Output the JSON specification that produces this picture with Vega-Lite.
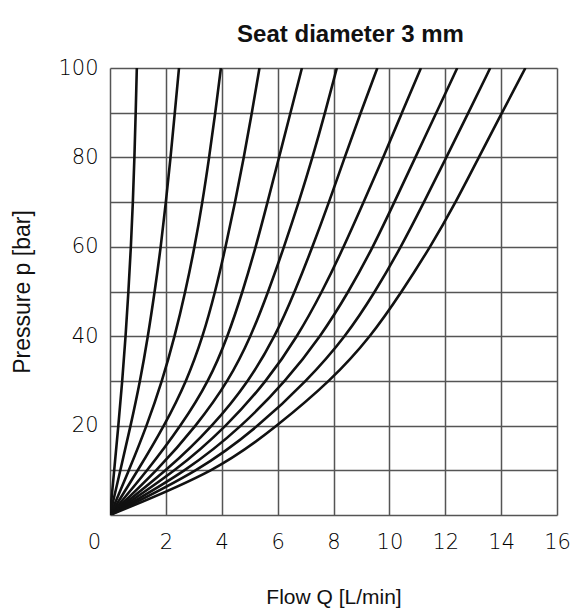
{
  "$schema": "https://vega.github.io/schema/vega-lite/v6.json",
  "autosize": {"type": "none"},
  "padding": {"left": 110, "top": 68, "right": 13, "bottom": 97},
  "width": 447,
  "height": 447,
  "background": "white",
  "title": {
    "text": "Seat diameter 3 mm",
    "font": "Liberation Sans",
    "fontSize": 24,
    "fontWeight": "bold",
    "color": "#111",
    "anchor": "middle",
    "baseline": "alphabetic",
    "dx": 17,
    "dy": 35,
    "offset": 26
  },
  "config": {
    "view": {"stroke": null},
    "axis": {
      "domain": false,
      "ticks": false,
      "tickSize": 0,
      "gridColor": "#555",
      "gridWidth": 1.5,
      "gridOpacity": 1,
      "labelFont": "DejaVu Sans",
      "labelFontWeight": 200,
      "labelFontSize": 21,
      "labelColor": "#000",
      "labelFlush": false,
      "titleFont": "Liberation Sans",
      "titleFontWeight": "normal",
      "titleColor": "#111"
    }
  },
  "data": {
    "values": [
      {"c": 1, "Q": 0, "p": 0}, {"c": 1, "Q": 0.15, "p": 10}, {"c": 1, "Q": 0.3, "p": 20}, {"c": 1, "Q": 0.44, "p": 30}, {"c": 1, "Q": 0.56, "p": 40}, {"c": 1, "Q": 0.66, "p": 50}, {"c": 1, "Q": 0.75, "p": 60}, {"c": 1, "Q": 0.82, "p": 70}, {"c": 1, "Q": 0.875, "p": 80}, {"c": 1, "Q": 0.92, "p": 90}, {"c": 1, "Q": 0.96, "p": 100},
      {"c": 2, "Q": 0, "p": 0}, {"c": 2, "Q": 0.37, "p": 10}, {"c": 2, "Q": 0.74, "p": 20}, {"c": 2, "Q": 1.08, "p": 30}, {"c": 2, "Q": 1.36, "p": 40}, {"c": 2, "Q": 1.6, "p": 50}, {"c": 2, "Q": 1.82, "p": 60}, {"c": 2, "Q": 2.0, "p": 70}, {"c": 2, "Q": 2.17, "p": 80}, {"c": 2, "Q": 2.32, "p": 90}, {"c": 2, "Q": 2.47, "p": 100},
      {"c": 3, "Q": 0, "p": 0}, {"c": 3, "Q": 0.68, "p": 10}, {"c": 3, "Q": 1.32, "p": 20}, {"c": 3, "Q": 1.87, "p": 30}, {"c": 3, "Q": 2.32, "p": 40}, {"c": 3, "Q": 2.7, "p": 50}, {"c": 3, "Q": 3.03, "p": 60}, {"c": 3, "Q": 3.31, "p": 70}, {"c": 3, "Q": 3.55, "p": 80}, {"c": 3, "Q": 3.77, "p": 90}, {"c": 3, "Q": 3.97, "p": 100},
      {"c": 4, "Q": 0, "p": 0}, {"c": 4, "Q": 1.0, "p": 10}, {"c": 4, "Q": 1.95, "p": 20}, {"c": 4, "Q": 2.75, "p": 30}, {"c": 4, "Q": 3.33, "p": 40}, {"c": 4, "Q": 3.77, "p": 50}, {"c": 4, "Q": 4.14, "p": 60}, {"c": 4, "Q": 4.48, "p": 70}, {"c": 4, "Q": 4.79, "p": 80}, {"c": 4, "Q": 5.08, "p": 90}, {"c": 4, "Q": 5.35, "p": 100},
      {"c": 5, "Q": 0, "p": 0}, {"c": 5, "Q": 1.35, "p": 10}, {"c": 5, "Q": 2.55, "p": 20}, {"c": 5, "Q": 3.55, "p": 30}, {"c": 5, "Q": 4.22, "p": 40}, {"c": 5, "Q": 4.75, "p": 50}, {"c": 5, "Q": 5.22, "p": 60}, {"c": 5, "Q": 5.64, "p": 70}, {"c": 5, "Q": 6.05, "p": 80}, {"c": 5, "Q": 6.46, "p": 90}, {"c": 5, "Q": 6.87, "p": 100},
      {"c": 6, "Q": 0, "p": 0}, {"c": 6, "Q": 1.7, "p": 10}, {"c": 6, "Q": 3.1, "p": 20}, {"c": 6, "Q": 4.25, "p": 30}, {"c": 6, "Q": 5.05, "p": 40}, {"c": 6, "Q": 5.67, "p": 50}, {"c": 6, "Q": 6.23, "p": 60}, {"c": 6, "Q": 6.76, "p": 70}, {"c": 6, "Q": 7.25, "p": 80}, {"c": 6, "Q": 7.7, "p": 90}, {"c": 6, "Q": 8.12, "p": 100},
      {"c": 7, "Q": 0, "p": 0}, {"c": 7, "Q": 2.05, "p": 10}, {"c": 7, "Q": 3.7, "p": 20}, {"c": 7, "Q": 4.98, "p": 30}, {"c": 7, "Q": 5.92, "p": 40}, {"c": 7, "Q": 6.62, "p": 50}, {"c": 7, "Q": 7.25, "p": 60}, {"c": 7, "Q": 7.84, "p": 70}, {"c": 7, "Q": 8.4, "p": 80}, {"c": 7, "Q": 8.97, "p": 90}, {"c": 7, "Q": 9.57, "p": 100},
      {"c": 8, "Q": 0, "p": 0}, {"c": 8, "Q": 2.4, "p": 10}, {"c": 8, "Q": 4.2, "p": 20}, {"c": 8, "Q": 5.62, "p": 30}, {"c": 8, "Q": 6.72, "p": 40}, {"c": 8, "Q": 7.6, "p": 50}, {"c": 8, "Q": 8.37, "p": 60}, {"c": 8, "Q": 9.08, "p": 70}, {"c": 8, "Q": 9.78, "p": 80}, {"c": 8, "Q": 10.45, "p": 90}, {"c": 8, "Q": 11.13, "p": 100},
      {"c": 9, "Q": 0, "p": 0}, {"c": 9, "Q": 2.8, "p": 10}, {"c": 9, "Q": 4.75, "p": 20}, {"c": 9, "Q": 6.3, "p": 30}, {"c": 9, "Q": 7.55, "p": 40}, {"c": 9, "Q": 8.55, "p": 50}, {"c": 9, "Q": 9.42, "p": 60}, {"c": 9, "Q": 10.18, "p": 70}, {"c": 9, "Q": 10.93, "p": 80}, {"c": 9, "Q": 11.68, "p": 90}, {"c": 9, "Q": 12.43, "p": 100},
      {"c": 10, "Q": 0, "p": 0}, {"c": 10, "Q": 3.25, "p": 10}, {"c": 10, "Q": 5.35, "p": 20}, {"c": 10, "Q": 7.05, "p": 30}, {"c": 10, "Q": 8.45, "p": 40}, {"c": 10, "Q": 9.5, "p": 50}, {"c": 10, "Q": 10.42, "p": 60}, {"c": 10, "Q": 11.24, "p": 70}, {"c": 10, "Q": 12.04, "p": 80}, {"c": 10, "Q": 12.83, "p": 90}, {"c": 10, "Q": 13.61, "p": 100},
      {"c": 11, "Q": 0, "p": 0}, {"c": 11, "Q": 3.9, "p": 10}, {"c": 11, "Q": 6.0, "p": 20}, {"c": 11, "Q": 7.9, "p": 30}, {"c": 11, "Q": 9.35, "p": 40}, {"c": 11, "Q": 10.45, "p": 50}, {"c": 11, "Q": 11.47, "p": 60}, {"c": 11, "Q": 12.38, "p": 70}, {"c": 11, "Q": 13.2, "p": 80}, {"c": 11, "Q": 14.03, "p": 90}, {"c": 11, "Q": 14.87, "p": 100}
    ]
  },
  "mark": {"type": "line", "interpolate": "basis", "color": "#111", "strokeWidth": 2.6, "clip": true},
  "encoding": {
    "x": {
      "field": "Q",
      "type": "quantitative",
      "scale": {"domain": [0, 16], "nice": false, "zero": false},
      "axis": {
        "title": "Flow Q [L/min]",
        "titleFontSize": 21,
        "values": [0, 2, 4, 6, 8, 10, 12, 14, 16],
        "labelPadding": 16,
        "labelOffset": {"condition": {"test": "datum.value === 0", "value": -16}, "value": 0},
        "titleY": 82,
        "titleBaseline": "middle"
      }
    },
    "y": {
      "field": "p",
      "type": "quantitative",
      "scale": {"domain": [0, 100], "nice": false, "zero": false},
      "axis": {
        "title": "Pressure p [bar]",
        "titleFontSize": 23,
        "values": [0, 10, 20, 30, 40, 50, 60, 70, 80, 90, 100],
        "labelExpr": "datum.value % 20 === 0 && datum.value > 0 ? datum.label : ''",
        "labelPadding": 12,
        "titleX": -88,
        "titleY": 223.5,
        "titleAngle": -90,
        "titleAlign": "center",
        "titleBaseline": "middle"
      }
    },
    "detail": {"field": "c", "type": "nominal"},
    "order": {"field": "p", "type": "quantitative"}
  }
}
